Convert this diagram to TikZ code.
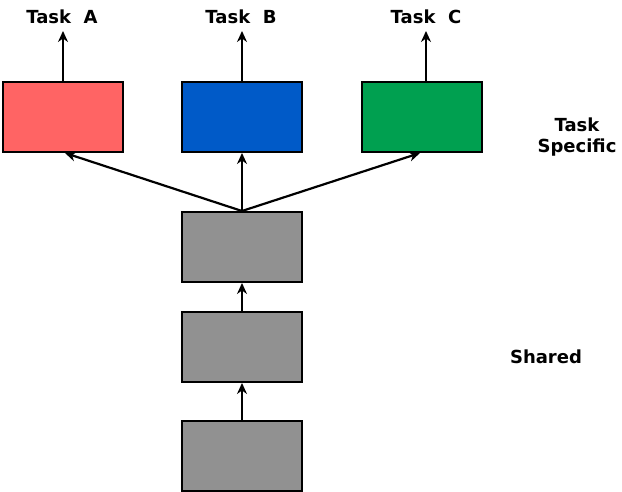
\documentclass[tikz,border=0pt]{standalone}
\usepackage{fontspec}
\setmainfont{DejaVu Sans}
\usetikzlibrary{arrows.meta}
\definecolor{taskred}{RGB}{255,100,100}
\definecolor{taskblue}{RGB}{0,90,200}
\definecolor{taskgreen}{RGB}{0,160,80}
\definecolor{sharedgray}{RGB}{145,145,145}
\begin{document}
\begin{tikzpicture}[x=1pt,y=-1pt,
  blk/.style={draw=black,line width=2pt,minimum width=120pt,minimum height=70pt,inner sep=0pt,anchor=north west},
  lbl/.style={font=\bfseries\fontsize{18}{21}\selectfont,align=center,inner sep=0pt},
  arr/.style={line width=2.2pt,-{Stealth[length=11pt,width=10pt]}}]
\useasboundingbox (0,0) rectangle (622,491);
\node[blk,fill=taskred] (A) at (2,81) {};
\node[blk,fill=taskblue] (B) at (181,81) {};
\node[blk,fill=taskgreen] (C) at (361,81) {};
\node[blk,fill=sharedgray] (G1) at (181,211) {};
\node[blk,fill=sharedgray] (G2) at (181,311) {};
\node[blk,fill=sharedgray] (G3) at (181,420) {};
\node[lbl] (tA) at (62,17) {Task\ \ A};
\node[lbl] (tB) at (241,17) {Task\ \ B};
\node[lbl] (tC) at (426,17) {Task\ \ C};
\node[lbl] (ts) at (577,137) {Task\\Specific};
\node[lbl] (sh) at (546,357) {Shared};
\coordinate (oA) at (62,31);
\coordinate (oB) at (241,31);
\coordinate (oC) at (426,31);
\coordinate (iC) at (426,81);
\draw[arr] (A.north) -- (A.north |- oA);
\draw[arr] (B.north) -- (B.north |- oB);
\draw[arr] (iC) -- (oC);
\draw[arr] (G1.north) -- ([xshift=2pt]A.south);
\draw[arr] (G1.north) -- (B.south);
\draw[arr] (G1.north) -- ([xshift=-2pt]C.south);
\draw[arr] (G2.north) -- (G1.south);
\draw[arr] (G3.north) -- (G2.south);
\end{tikzpicture}
\end{document}
